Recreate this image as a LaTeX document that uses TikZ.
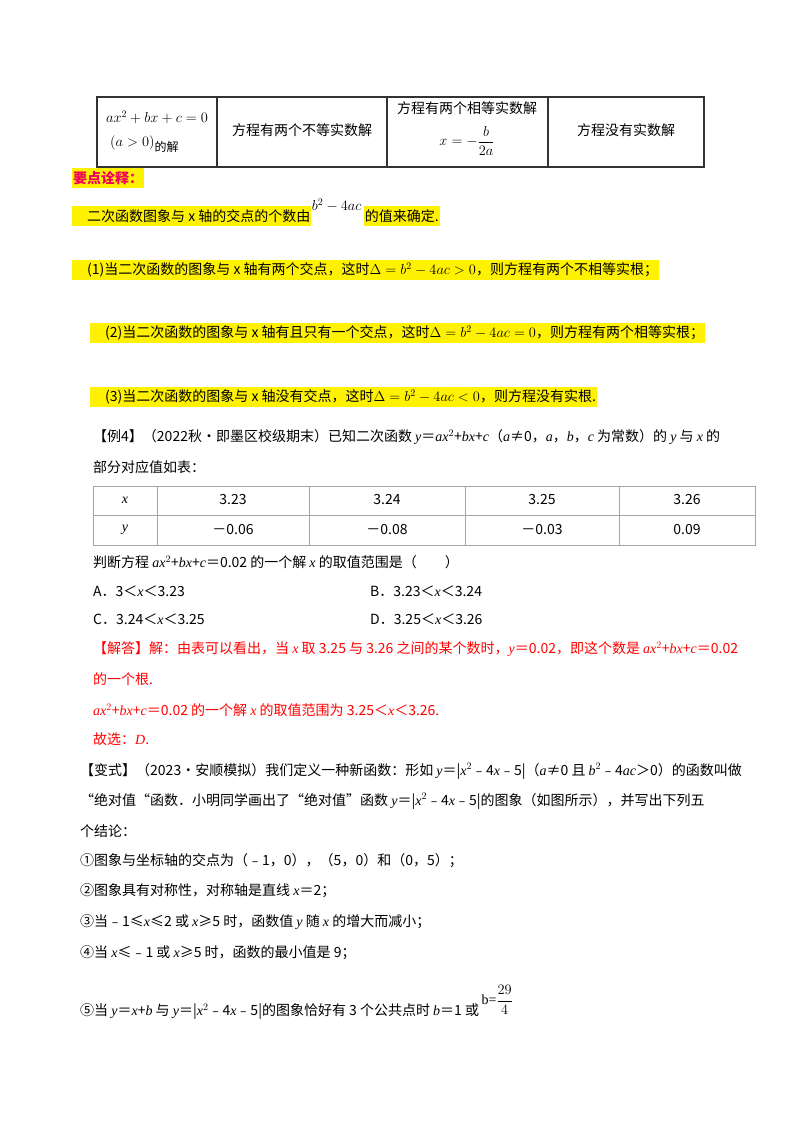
\documentclass[tikz,border=0pt]{standalone}
\usepackage{fontspec}
\setmainfont{Liberation Serif}
\newfontfamily\cjk{Noto Sans CJK SC}
\newcommand{\iv}[1]{{\rmfamily\itshape #1}}
\begin{document}
\begin{tikzpicture}[x=1pt,y=-1pt,
  every node/.style={font=\fontsize{14}{16}\selectfont},
  txt/.style={anchor=west,inner sep=0pt,font=\cjk\fontsize{14}{16}\selectfont},
  ctxt/.style={inner sep=0pt,font=\cjk\fontsize{14}{16}\selectfont,align=center},
  hl/.style={txt,fill=yellow,inner xsep=1pt,inner ysep=3pt},
  ans/.style={txt,text=red}]
\useasboundingbox[fill=white] (0,0) rectangle (800,1132);
% top table
\draw[line width=2.2pt,gray!40!black] (97,97) rectangle (704,167);
\foreach \c in {217,387,548}{\draw[line width=1.6pt,gray!40!black] (\c,97) -- (\c,167);}
\node[inner sep=0pt] (t1) at (157,117) {$ax^2+bx+c=0$};
\node[inner sep=0pt,anchor=west] (t1b) at (110,144) {$\left(a>0\right)$\raisebox{-5pt}{\cjk\fontsize{12}{14}\selectfont 的解}};
\node[ctxt] (t2) at (302,130) {方程有两个不等实数解};
\node[ctxt] (t3) at (467,108) {方程有两个相等实数解};
\node[inner sep=0pt] (t3b) at (467,141) {$x=-\displaystyle\frac{b}{2a}$};
\node[ctxt] (t4) at (626,130) {方程没有实数解};
% key points
\node[hl,text={rgb,255:red,240;green,0;blue,90},font=\cjk\bfseries\fontsize{14}{16}\selectfont] (kp) at (72,178) {要点诠释：};
\node[hl] (l0) at (72,216) {\quad 二次函数图象与 x 轴的交点的个数由};
\node[inner sep=0pt,anchor=west] (l0m) at (l0.east|-0,205) {$b^2-4ac$};
\node[hl] (l0b) at ([xshift=2pt]l0m.east|-0,216) {的值来确定.};
\node[hl] (l1) at (72,270) {\quad(1)当二次函数的图象与 x 轴有两个交点，这时$\Delta=b^2-4ac>0$，则方程有两个不相等实根；};
\node[hl] (l2) at (90,333) {\quad(2)当二次函数的图象与 x 轴有且只有一个交点，这时$\Delta=b^2-4ac=0$，则方程有两个相等实根；};
\node[hl] (l3) at (90,397) {\quad(3)当二次函数的图象与 x 轴没有交点，这时$\Delta=b^2-4ac<0$，则方程没有实根.};
% example 4
\node[txt] (e1) at (93,437) {【例4】（2022秋•即墨区校级期末）已知二次函数 \iv{y}＝\iv{ax}$^2$+\iv{bx}+\iv{c}（\iv{a}≠0，\iv{a}，\iv{b}，\iv{c} 为常数）的 \iv{y} 与 \iv{x} 的};
\node[txt] (e2) at (93,467) {部分对应值如表：};
\draw[gray!70] (93,486) rectangle (755,545) (93,515) -- (755,515);
\foreach \c in {157,309,465,619}{\draw[gray!70] (\c,486) -- (\c,545);}
\node[ctxt] (ax) at (125,500) {\iv{x}};
\node[ctxt] (ay) at (125,530) {\iv{y}};
\node[ctxt] (a1) at (233,500) {3.23};
\node[ctxt] (a2) at (387,500) {3.24};
\node[ctxt] (a3) at (542,500) {3.25};
\node[ctxt] (a4) at (687,500) {3.26};
\node[ctxt] (b1) at (233,530) {－0.06};
\node[ctxt] (b2) at (387,530) {－0.08};
\node[ctxt] (b3) at (542,530) {－0.03};
\node[ctxt] (b4) at (687,530) {0.09};
\node[txt] (q) at (93,562) {判断方程 \iv{ax}$^2$+\iv{bx}+\iv{c}＝0.02 的一个解 \iv{x} 的取值范围是（\quad\quad）};
\node[txt] (oA) at (93,591) {A．3＜\iv{x}＜3.23};
\node[txt] (oB) at (370,591) {B．3.23＜\iv{x}＜3.24};
\node[txt] (oC) at (93,619) {C．3.24＜\iv{x}＜3.25};
\node[txt] (oD) at (370,619) {D．3.25＜\iv{x}＜3.26};
\node[ans] (s1) at (93,649) {【解答】解：由表可以看出，当 \iv{x} 取 3.25 与 3.26 之间的某个数时，\iv{y}＝0.02，即这个数是 \iv{ax}$^2$+\iv{bx}+\iv{c}＝0.02};
\node[ans] (s2) at (93,679) {的一个根.};
\node[ans] (s3) at (93,710) {\iv{ax}$^2$+\iv{bx}+\iv{c}＝0.02 的一个解 \iv{x} 的取值范围为 3.25＜\iv{x}＜3.26.};
\node[ans] (s4) at (93,739) {故选：\iv{D}.};
% variant
\node[txt] (v1) at (80,771) {【变式】（2023•安顺模拟）我们定义一种新函数：形如 \iv{y}＝|\iv{x}$^2$﹣4\iv{x}﹣5|（\iv{a}≠0 且 \iv{b}$^2$﹣4\iv{ac}＞0）的函数叫做};
\node[txt] (v2) at (80,801) {“绝对值“函数．小明同学画出了“绝对值”函数 \iv{y}＝|\iv{x}$^2$﹣4\iv{x}﹣5|的图象（如图所示），并写出下列五};
\node[txt] (v3) at (80,831) {个结论：};
\node[txt] (c1) at (80,861) {①图象与坐标轴的交点为（﹣1，0），（5，0）和（0，5）；};
\node[txt] (c2) at (80,891) {②图象具有对称性，对称轴是直线 \iv{x}＝2；};
\node[txt] (c3) at (80,922) {③当﹣1≤\iv{x}≤2 或 \iv{x}≥5 时，函数值 \iv{y} 随 \iv{x} 的增大而减小；};
\node[txt] (c4) at (80,953) {④当 \iv{x}≤﹣1 或 \iv{x}≥5 时，函数的最小值是 9；};
\node[txt] (c5) at (80,1012) {⑤当 \iv{y}＝\iv{x}+\iv{b} 与 \iv{y}＝|\iv{x}$^2$﹣4\iv{x}﹣5|的图象恰好有 3 个公共点时 \iv{b}＝1 或};
\node[inner sep=0pt,anchor=west] (c5f) at ([xshift=2pt]c5.east|-0,1000) {b=$\displaystyle\frac{29}{4}$};
\end{tikzpicture}
\end{document}
